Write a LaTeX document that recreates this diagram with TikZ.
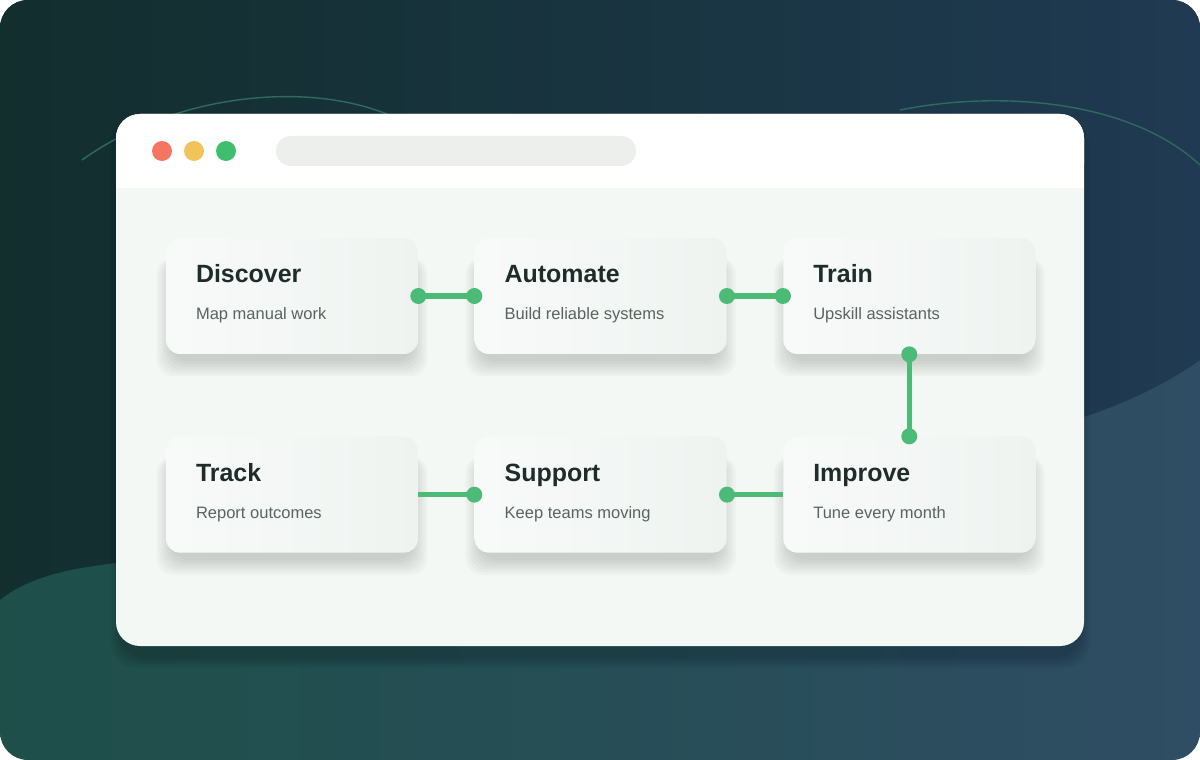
\documentclass[tikz,border=0pt]{standalone}
\usepackage{fontspec}
\setmainfont{Liberation Sans}
\usetikzlibrary{positioning,backgrounds}
\definecolor{bgA}{HTML}{122E2D}
\definecolor{bgM}{HTML}{1F3A52}
\definecolor{lowA}{HTML}{1E4F49}
\definecolor{lowB}{HTML}{2F4D64}
\definecolor{arc}{HTML}{2F6A5E}
\definecolor{pane}{HTML}{F4F8F5}
\definecolor{cardB}{HTML}{EEF3F0}
\definecolor{ink}{HTML}{1E2D2A}
\definecolor{soft}{HTML}{59645F}
\definecolor{link}{HTML}{4DBB78}
\definecolor{lampR}{HTML}{F37562}
\definecolor{lampY}{HTML}{F2C35B}
\definecolor{lampG}{HTML}{3FBF6E}
\definecolor{bar}{HTML}{ECEFEC}
\tikzset{
  card/.style={draw=none, rounded corners=0.28cm, minimum width=5.04cm, minimum height=2.32cm,
    inner sep=0pt, left color=white!60!cardB, right color=cardB},
  haze/.style={fill=black, opacity=0.025, rounded corners=0.34cm},
  head/.style={anchor=base west, font=\bfseries\fontsize{14.2}{17}\selectfont, text=ink, inner sep=0pt},
  sub/.style={anchor=base west, font=\fontsize{9.4}{11}\selectfont, text=soft, inner sep=0pt},
  link/.style={draw=link, line width=2.9pt},
  dot/.style={fill=link, draw=none}
}
\begin{document}
\begin{tikzpicture}[x=0.02cm, y=-0.02cm]
	\useasboundingbox (0,0) rectangle (1200,760);

	% Cards
	\node[card] (discover) at (292,296) {};
	\node[card, right=1.12cm of discover] (automate) {};
	\node[card, right=1.12cm of automate] (train) {};
	\node[card, below=1.64cm of discover] (track) {};
	\node[card, below=1.64cm of automate] (support) {};
	\node[card, below=1.64cm of train] (improve) {};

	\foreach \n/\t/\s in {discover/Discover/Map manual work, automate/Automate/Build reliable systems,
		train/Train/Upskill assistants, track/Track/Report outcomes,
		support/Support/Keep teams moving, improve/Improve/Tune every month}{
		\node[head] (\n-head) at ([xshift=0.6cm, yshift=-0.9cm]\n.north west) {\t};
		\node[sub] (\n-sub) at ([xshift=0.6cm, yshift=-1.64cm]\n.north west) {\s};
	}

	\begin{scope}[on background layer]
		% Backdrop
		\begin{scope}
			\clip[rounded corners=0.56cm] (0,0) rectangle (1200,760);
			\shade[left color=lowA, right color=lowB] (0,0) rectangle (1200,760);
			\shade[left color=bgA, right color=bgM] (0,0) -- (1200,0) -- (1200,360)
				.. controls (1130,410) and (1020,445) .. (900,450)
				-- (150,560) .. controls (80,565) and (30,575) .. (0,600) -- cycle;
			\draw[arc, line width=0.8pt] (82,160) .. controls (180,90) and (320,80) .. (400,120);
			\draw[arc, line width=0.8pt] (900,110) .. controls (1000,90) and (1130,100) .. (1200,165);
		\end{scope}

		% Window
		\foreach \k in {0,...,5}
			\fill[black, opacity=0.03, rounded corners=0.5cm] (120-\k*2,118) rectangle (1080+\k*2,658+\k*2);
		\fill[pane, rounded corners=0.48cm] (116,114) rectangle (1084,646);
		\fill[white, rounded corners=0.48cm] (116,114) rectangle (1084,188);
		\fill[white] (116,160) rectangle (1084,188);
		\fill[lampR] (162,151) circle (10);
		\fill[lampY] (194,151) circle (10);
		\fill[lampG] (226,151) circle (10);
		\fill[bar, rounded corners=0.3cm] (276,136) rectangle (636,166);

		% Card shadows
		\foreach \n in {discover,automate,train,track,support,improve}
			\foreach \k in {0,...,6}
				\fill[haze] ([xshift=0.12cm-\k*0.05cm, yshift=-0.4cm]\n.north west)
					rectangle ([xshift=-0.12cm+\k*0.05cm, yshift=-0.14cm-\k*0.05cm]\n.south east);
	\end{scope}

	% Links
	\draw[link] (discover.east) -- (automate.west);
	\fill[dot] (discover.east) circle (8) (automate.west) circle (8);
	\draw[link] (automate.east) -- (train.west);
	\fill[dot] (automate.east) circle (8) (train.west) circle (8);
	\draw[link] (train.south) -- (improve.north);
	\fill[dot] (train.south) circle (8) (improve.north) circle (8);
	\draw[link] (improve.west) -- (support.east);
	\fill[dot] (support.east) circle (8);
	\draw[link] (support.west) -- (track.east);
	\fill[dot] (support.west) circle (8);
\end{tikzpicture}
\end{document}
